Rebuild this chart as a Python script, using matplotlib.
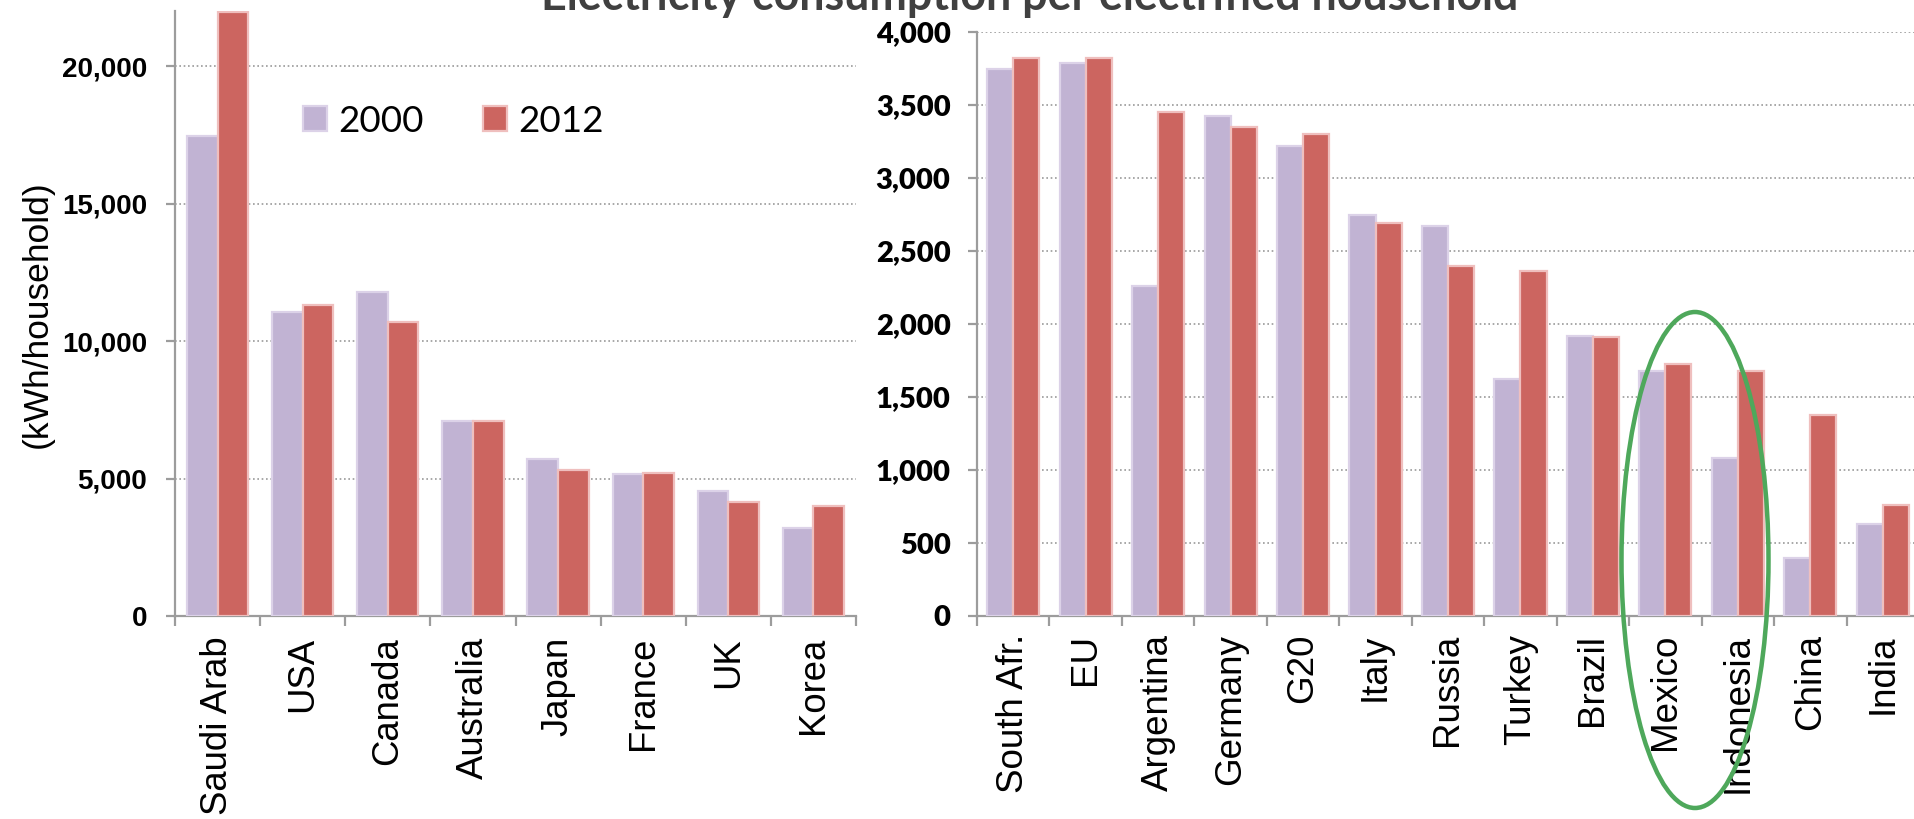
import matplotlib
matplotlib.use('Agg')
import matplotlib.pyplot as plt
from matplotlib.patches import Ellipse
from matplotlib.ticker import FixedLocator, FuncFormatter
import numpy as np

# ---------------- data ----------------
left_categories = ['Saudi Arab', 'USA', 'Canada', 'Australia', 'Japan', 'France', 'UK', 'Korea']
left_2000 = [17450, 11050, 11800, 7100, 5700, 5150, 4560, 3200]
left_2012 = [21970, 11300, 10700, 7080, 5300, 5190, 4140, 4000]

right_categories = ['South Afr.', 'EU', 'Argentina', 'Germany', 'G20', 'Italy', 'Russia',
                    'Turkey', 'Brazil', 'Mexico', 'Indonesia', 'China', 'India']
right_2000 = [3750, 3790, 2260, 3425, 3220, 2750, 2670, 1620, 1920, 1675, 1080, 400, 630]
right_2012 = [3820, 3820, 3450, 3350, 3300, 2690, 2400, 2360, 1910, 1725, 1680, 1380, 760]

series_labels = ['2000', '2012']
left_yticks = [0, 5000, 10000, 15000, 20000]
right_yticks = [0, 500, 1000, 1500, 2000, 2500, 3000, 3500, 4000]
title_text = 'Electricity consumption per electrified household'
ylabel_text = '(kWh/household)'

# ---------------- style ----------------
plt.rcParams['font.family'] = ['Liberation Sans', 'DejaVu Sans']
W, H = 1915, 819
DPI = 100
C2000, E2000 = '#c1b3d3', '#dcd2e8'
C2012, E2012 = '#cc6560', '#efbfbe'
GRID = '#9a9a9a'
SPINE = '#9c9c9c'
PX = 72.0 / DPI  # points per pixel

def fx(px):
    return px / W

def fy(py):
    return 1 - py / H

fig = plt.figure(figsize=(W / DPI, H / DPI), dpi=DPI)

ax1 = fig.add_axes([fx(175), fy(616), (856 - 175) / W, (616 - 11) / H])
ax2 = fig.add_axes([fx(977), fy(616), (1919 - 977) / W, (616 - 32) / H])

bw = 0.36

def draw(ax, cats, v0, v1, ymax, yticks, tickfont, tickfs, tickweight, labpad, catfs):
    x = np.arange(len(cats))
    b0 = ax.bar(x - bw / 2, v0, bw, color=C2000, edgecolor=E2000, linewidth=1.6,
                label=series_labels[0], zorder=3)
    b1 = ax.bar(x + bw / 2, v1, bw, color=C2012, edgecolor=E2012, linewidth=1.6,
                label=series_labels[1], zorder=3)
    ax.set_xlim(-0.5, len(cats) - 0.5)
    ax.set_ylim(0, ymax)
    ax.set_axisbelow(True)
    for s in ['top', 'right']:
        ax.spines[s].set_visible(False)
    for s in ['left', 'bottom']:
        ax.spines[s].set_color(SPINE)
        ax.spines[s].set_linewidth(1.6)
    ax.yaxis.set_major_locator(FixedLocator(yticks))
    ax.yaxis.set_major_formatter(FuncFormatter(lambda v, p: f'{int(v):,}'))
    ax.yaxis.grid(True, linestyle=(0, (1, 1.6)), color=GRID, linewidth=1.2)
    ax.tick_params(axis='y', length=9 * PX, width=1.6, color=SPINE, pad=labpad)
    for t in ax.get_yticklabels():
        t.set_fontfamily(tickfont)
        t.set_fontweight(tickweight)
        t.set_fontsize(tickfs)
    ax.set_xticks(x)
    ax.set_xticklabels(cats, rotation=90, fontsize=catfs)
    ax.xaxis.set_minor_locator(FixedLocator(np.arange(len(cats) + 1) - 0.5))
    ax.tick_params(axis='x', which='major', length=0, pad=15)
    ax.tick_params(axis='x', which='minor', length=10 * PX, width=1.6, color=SPINE)
    return b0, b1

b0, b1 = draw(ax1, left_categories, left_2000, left_2012, 22000, left_yticks,
              ['Liberation Sans', 'DejaVu Sans'], 20, 'bold', 13.5, 26.3)
draw(ax2, right_categories, right_2000, right_2012, 4000, right_yticks,
     ['Lato', 'DejaVu Sans'], 21, 'heavy', 12.5, 26.5)
ax2.tick_params(axis='x', which='major', pad=13)

# y label
fig.text(fx(37), fy(314), ylabel_text, rotation=90, ha='center', va='center', fontsize=25.5)

# legend
leg_fs = 26.5
leg_px = leg_fs / PX
ax1.legend(handles=[b0, b1], labels=series_labels, ncol=2, frameon=False,
           loc='center left', bbox_to_anchor=(fx(303), fy(121)),
           bbox_transform=fig.transFigure, borderpad=0, borderaxespad=0,
           handlelength=24 / leg_px, handleheight=24 / leg_px,
           handletextpad=11 / leg_px, columnspacing=60 / leg_px,
           prop={'family': ['Lato', 'DejaVu Sans'], 'size': leg_fs})

# title (cut off at top of figure, as in reference); fit to measured width
title = fig.text(fx(1030), fy(10), title_text, ha='center', va='baseline',
                 fontsize=30, fontweight='bold', color='#404040',
                 family=['Lato', 'DejaVu Sans'])
fig.canvas.draw()
wpx = title.get_window_extent().width
title.set_fontsize(30 * 979 / wpx)

# green highlight ellipse
fig.add_artist(Ellipse((fx(1695), fy(560)), 147 / W, 496 / H, fill=False,
                       edgecolor='#4ea85b', linewidth=4.5 * PX, transform=fig.transFigure,
                       zorder=10, clip_on=False))

fig.savefig('out.png', dpi=DPI)
